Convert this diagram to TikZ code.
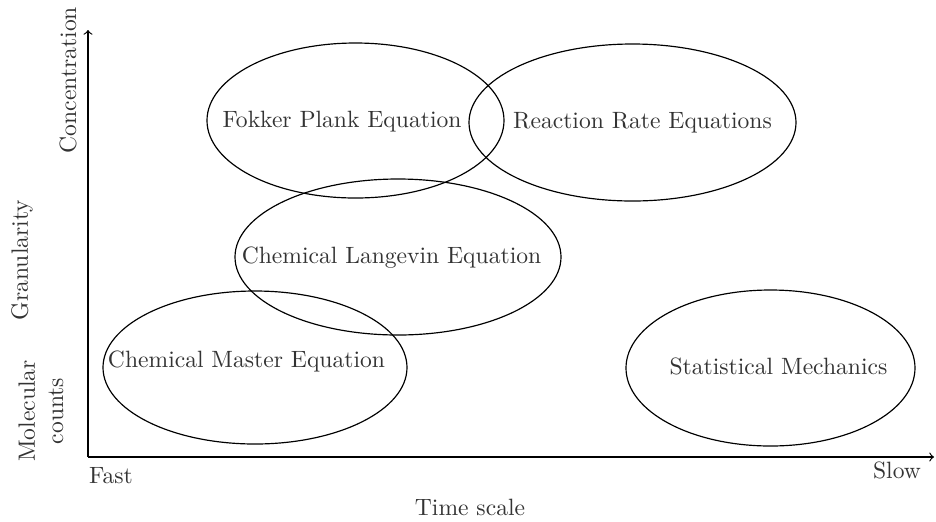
\documentclass[tikz,border=0pt]{standalone}
\usetikzlibrary{shapes.geometric}
\begin{document}
\begin{tikzpicture}[x=0.424pt,y=-0.424pt,
  lbl/.style={inner sep=0pt, text=black!80},
  bubble/.style={draw, line width=0.5pt},
  axis/.style={draw, line width=0.5pt, ->}]
\useasboundingbox (0,0) rectangle (936,521);
% axes
\coordinate (O) at (88,457);
\coordinate (ytop) at (88,30);
\coordinate (xend) at (934,457);
\draw[axis] (O) -- (ytop);
\draw[axis] (O) -- (xend);
% ellipses
\draw[bubble] (355.5,120.5) ellipse [x radius=148.5, y radius=77.5];
\draw[bubble] (632.5,122.5) ellipse [x radius=163.5, y radius=78.5];
\draw[bubble] (398,257) ellipse [x radius=163, y radius=78];
\draw[bubble] (255,367.5) ellipse [x radius=152, y radius=76.5];
\draw[bubble] (770.5,368) ellipse [x radius=144.5, y radius=78];
% labels
\node[lbl] (fp) at (342,122) {Fokker Plank Equation};
\node[lbl] (rr) at (642.5,123) {Reaction Rate Equations};
\node[lbl] (cl) at (391.5,258) {Chemical Langevin Equation};
\node[lbl] (cm) at (246.5,361) {Chemical Master Equation};
\node[lbl] (sm) at (778.5,366) {Statistical Mechanics};
\node[lbl] (fast) at (111,476) {Fast};
\node[lbl] (slow) at (897,470) {Slow};
\node[lbl] (ts) at (470,507) {Time scale};
\node[lbl, rotate=90] (conc) at (68,80) {Concentration};
\node[lbl, rotate=90] (gran) at (22,260) {Granularity};
\node[lbl, rotate=90, align=center] (mol) at (41,411) {Molecular\\counts};
\end{tikzpicture}
\end{document}
